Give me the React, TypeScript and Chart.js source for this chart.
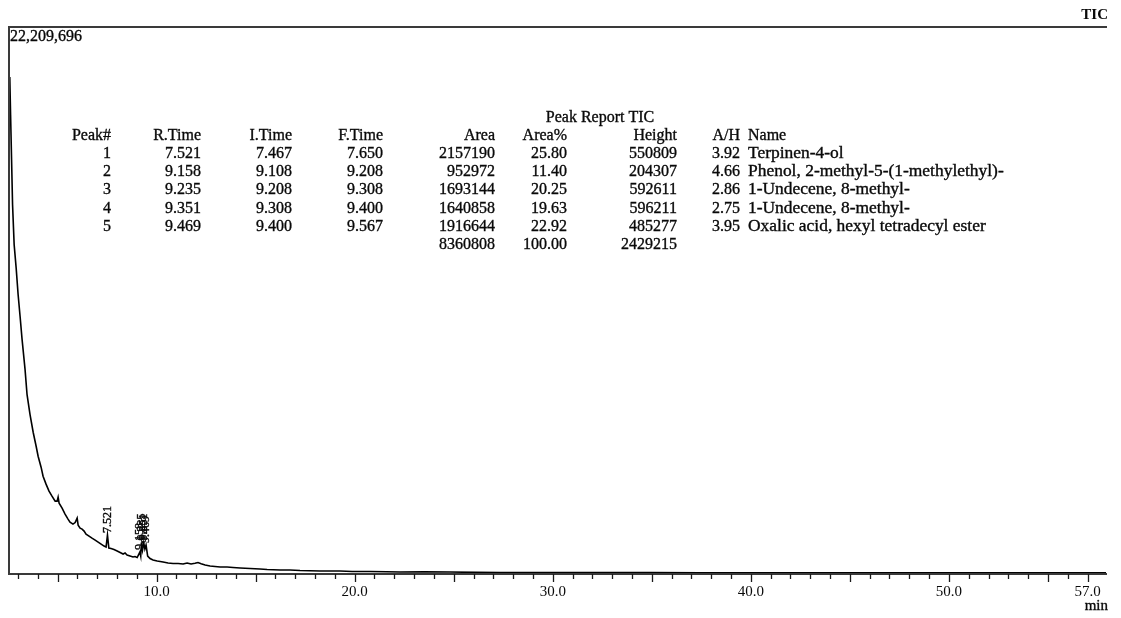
import React, { useEffect, useRef } from 'react';
import { Chart, registerables } from 'chart.js';

Chart.register(...registerables);

// ---- chromatogram trace (retention time in min, intensity) ----
const retentionTimes = [
  2.59, 2.63, 2.68, 2.73, 2.81, 2.91, 3.01, 3.11, 3.21, 3.36, 3.46, 3.61, 3.77, 3.92, 4.02, 4.17, 4.27, 4.42, 4.57,
  4.72, 4.88, 4.98, 5.03, 5.08, 5.23, 5.38, 5.53, 5.63, 5.78, 5.89, 5.99, 6.04, 6.14, 6.24, 6.34, 6.44, 6.59, 6.74,
  6.9, 7.05, 7.2, 7.35, 7.45, 7.521, 7.59, 7.7, 7.85, 8.01, 8.16, 8.31, 8.41, 8.51, 8.66, 8.81, 8.91, 9.02, 9.158,
  9.2, 9.235, 9.29, 9.351, 9.41, 9.469, 9.55, 9.67, 9.82, 10.03, 10.18, 10.33, 10.58, 10.83, 11.09, 11.34, 11.54,
  11.74, 11.94, 12.09, 12.25, 12.45, 12.7, 12.95, 13.21, 13.56, 13.86, 14.22, 14.72, 15.22, 15.58, 16.23, 16.74,
  17.24, 18.25, 19.26, 19.87, 20.78, 21.6, 22.29, 23.5, 24.82, 26.1, 27.34, 29.86, 32.39, 34.91, 37.44, 42.48,
  47.53, 52.58, 57.93,
];
const intensities = [
  20183000, 18643000, 16820000, 14996000, 13375000, 12442000, 11348000, 10456000, 9524000, 8308000, 7295000, 6485000,
  5755000, 5188000, 4782000, 4337000, 3972000, 3648000, 3364000, 3161000, 2959000, 2959000, 3121000, 2878000, 2675000,
  2432000, 2229000, 2108000, 2026000, 2088000, 2270000, 1986000, 1864000, 1824000, 1743000, 1621000, 1540000, 1459000,
  1378000, 1297000, 1216000, 1135000, 1094000, 1581000, 1054000, 1033000, 993000, 932000, 871000, 811000, 851000,
  770000, 730000, 689000, 709000, 669000, 892000, 730000, 1277000, 973000, 1277000, 1013000, 1175000, 730000, 628000,
  567000, 527000, 507000, 486000, 446000, 426000, 426000, 405000, 446000, 405000, 436000, 466000, 416000, 365000,
  324000, 304000, 284000, 284000, 263000, 243000, 223000, 203000, 182000, 162000, 162000, 142000, 122000, 122000,
  101000, 101000, 90000, 81000, 85000, 81000, 66000, 61000, 61000, 61000, 61000, 53000, 49000, 49000, 45000, 45000,
];

// ---- peak report table ----
const peakNumbers = ['1', '2', '3', '4', '5'];
const peakRTimes = ['7.521', '9.158', '9.235', '9.351', '9.469'];
const peakITimes = ['7.467', '9.108', '9.208', '9.308', '9.400'];
const peakFTimes = ['7.650', '9.208', '9.308', '9.400', '9.567'];
const peakAreas = ['2157190', '952972', '1693144', '1640858', '1916644'];
const peakAreaPct = ['25.80', '11.40', '20.25', '19.63', '22.92'];
const peakHeights = ['550809', '204307', '592611', '596211', '485277'];
const peakAH = ['3.92', '4.66', '2.86', '2.75', '3.95'];
const peakNames = [
  'Terpinen-4-ol',
  'Phenol, 2-methyl-5-(1-methylethyl)-',
  '1-Undecene, 8-methyl-',
  '1-Undecene, 8-methyl-',
  'Oxalic acid, hexyl tetradecyl ester',
];
const totalRow = ['8360808', '100.00', '2429215'];

// ---- axes ----
const xTickValues = [
  3, 4, 5, 6, 7, 8, 9, 10, 11, 12, 13, 14, 15, 16, 17, 18, 19, 20, 21, 22, 23, 24, 25, 26, 27, 28, 29, 30, 31, 32, 33,
  34, 35, 36, 37, 38, 39, 40, 41, 42, 43, 44, 45, 46, 47, 48, 49, 50, 51, 52, 53, 54, 55, 56, 57,
];
const xLabelValues = [10, 20, 30, 40, 50, 57];
const xMin = 2.55;
const xMax = 57.98;
const yMax = 22209696;
const yMaxLabel = '22,209,696';

const SERIF = '"Liberation Serif", "Times New Roman", serif';
const INK = '#0a0a0a';

function heavyText(ctx: any, s: string, x: number, y: number) {
  ctx.fillText(s, x, y);
  ctx.strokeText(s, x, y);
}

const overlayPlugin = {
  id: 'overlay',
  afterDraw(chart: any) {
    const { ctx, chartArea } = chart;
    const xs = chart.scales.x;
    const ys = chart.scales.y;
    const { left, right, top, bottom } = chartArea;
    ctx.save();

    // frame: top, left, bottom axis line
    ctx.strokeStyle = '#3a3a3a';
    ctx.lineWidth = 2;
    ctx.beginPath();
    ctx.moveTo(left - 1, top);
    ctx.lineTo(right, top);
    ctx.moveTo(left, top);
    ctx.lineTo(left, bottom);
    ctx.moveTo(left - 1, bottom);
    ctx.lineTo(right, bottom);
    ctx.stroke();

    // tick marks
    ctx.lineWidth = 1.3;
    ctx.strokeStyle = '#1a1a1a';
    xs.ticks.forEach((t: any) => {
      const px = Math.round(xs.getPixelForValue(t.value)) + 0.5;
      const major = t.value % 5 === 0 || xLabelValues.includes(t.value);
      ctx.beginPath();
      ctx.moveTo(px, bottom);
      ctx.lineTo(px, bottom + (major ? 8 : 5));
      ctx.stroke();
    });

    ctx.fillStyle = INK;
    ctx.strokeStyle = INK;
    ctx.lineWidth = 0.35;
    // y max label
    ctx.font = `16px ${SERIF}`;
    ctx.textAlign = 'left';
    ctx.textBaseline = 'middle';
    heavyText(ctx, yMaxLabel, left + 1, top + 10);

    // TIC title
    ctx.font = `bold 15px ${SERIF}`;
    ctx.textAlign = 'right';
    ctx.fillText('TIC', right + 1, 15);

    // min unit
    ctx.font = `15px ${SERIF}`;
    ctx.textAlign = 'right';
    heavyText(ctx, 'min', right + 1, 606);

    // peak labels (rotated)
    ctx.font = `12px ${SERIF}`;
    ctx.textAlign = 'left';
    ctx.textBaseline = 'middle';
    peakRTimes.forEach((rt) => {
      const v = parseFloat(rt);
      let best = 0;
      retentionTimes.forEach((t, i) => {
        if (Math.abs(t - v) < Math.abs(retentionTimes[best] - v)) best = i;
      });
      const px = xs.getPixelForValue(v);
      const py = ys.getPixelForValue(intensities[best]);
      ctx.save();
      ctx.translate(px, py - 2);
      ctx.rotate(-Math.PI / 2);
      heavyText(ctx, rt, 0, 0);
      ctx.restore();
    });

    // peak report table
    ctx.font = `16px ${SERIF}`;
    ctx.textBaseline = 'middle';
    const titleY = 118;
    const headY = 136;
    const rowH = 18.3;
    ctx.textAlign = 'center';
    heavyText(ctx, 'Peak Report TIC', 600, titleY);
    const rightCols: [string, number, string[]][] = [
      ['Peak#', 111, peakNumbers],
      ['R.Time', 201, peakRTimes],
      ['I.Time', 292, peakITimes],
      ['F.Time', 383, peakFTimes],
      ['Area', 495, peakAreas],
      ['Area%', 567, peakAreaPct],
      ['Height', 677, peakHeights],
      ['A/H', 740, peakAH],
    ];
    ctx.textAlign = 'right';
    rightCols.forEach(([head, x, vals]) => {
      heavyText(ctx, head, x, headY);
      vals.forEach((v, i) => heavyText(ctx, v, x, headY + 17.6 + i * rowH));
    });
    const totalY = headY + 17.6 + peakNumbers.length * rowH;
    heavyText(ctx, totalRow[0], 495, totalY);
    heavyText(ctx, totalRow[1], 567, totalY);
    heavyText(ctx, totalRow[2], 677, totalY);
    ctx.textAlign = 'left';
    heavyText(ctx, 'Name', 748, headY);
    peakNames.forEach((n, i) => {
      ctx.save();
      ctx.translate(748, headY + 17.6 + i * rowH);
      ctx.scale(1.09, 1);
      heavyText(ctx, n, 0, 0);
      ctx.restore();
    });

    ctx.restore();
  },
};

export default function App() {
  const canvasRef = useRef<HTMLCanvasElement | null>(null);

  useEffect(() => {
    const canvas = canvasRef.current;
    if (!canvas) return;
    const chart = new Chart(canvas, {
      type: 'line',
      data: {
        datasets: [
          {
            label: 'TIC',
            data: retentionTimes.map((t, i) => ({ x: t, y: intensities[i] })),
            borderColor: '#000',
            borderWidth: 1.6,
            pointRadius: 0,
            tension: 0,
            fill: false,
          },
        ],
      },
      options: {
        animation: false,
        responsive: false,
        maintainAspectRatio: false,
        layout: { padding: { left: 9, right: 14, top: 27, bottom: 16 } },
        plugins: { legend: { display: false }, tooltip: { enabled: false }, title: { display: false } },
        scales: {
          x: {
            type: 'linear',
            min: xMin,
            max: xMax,
            afterBuildTicks: (scale: any) => {
              scale.ticks = xTickValues.map((v) => ({ value: v }));
            },
            grid: { display: false, drawOnChartArea: false, drawTicks: true, tickLength: 8 },
            border: { display: false },
            ticks: {
              autoSkip: false,
              maxRotation: 0,
              minRotation: 0,
              padding: 1,
              color: INK,
              font: { family: SERIF, size: 15 },
              callback: (v: any) => (xLabelValues.includes(Number(v)) ? Number(v).toFixed(1) : ''),
            },
          },
          y: {
            display: false,
            min: 0,
            max: yMax,
          },
        },
      },
      plugins: [overlayPlugin],
    });
    return () => chart.destroy();
  }, []);

  return (
    <div style={{ position: 'absolute', left: 0, top: 0, width: 1121, height: 618, background: '#fff' }}>
      <canvas ref={canvasRef} width={1121} height={618} style={{ display: 'block', width: 1121, height: 618 }} />
    </div>
  );
}
